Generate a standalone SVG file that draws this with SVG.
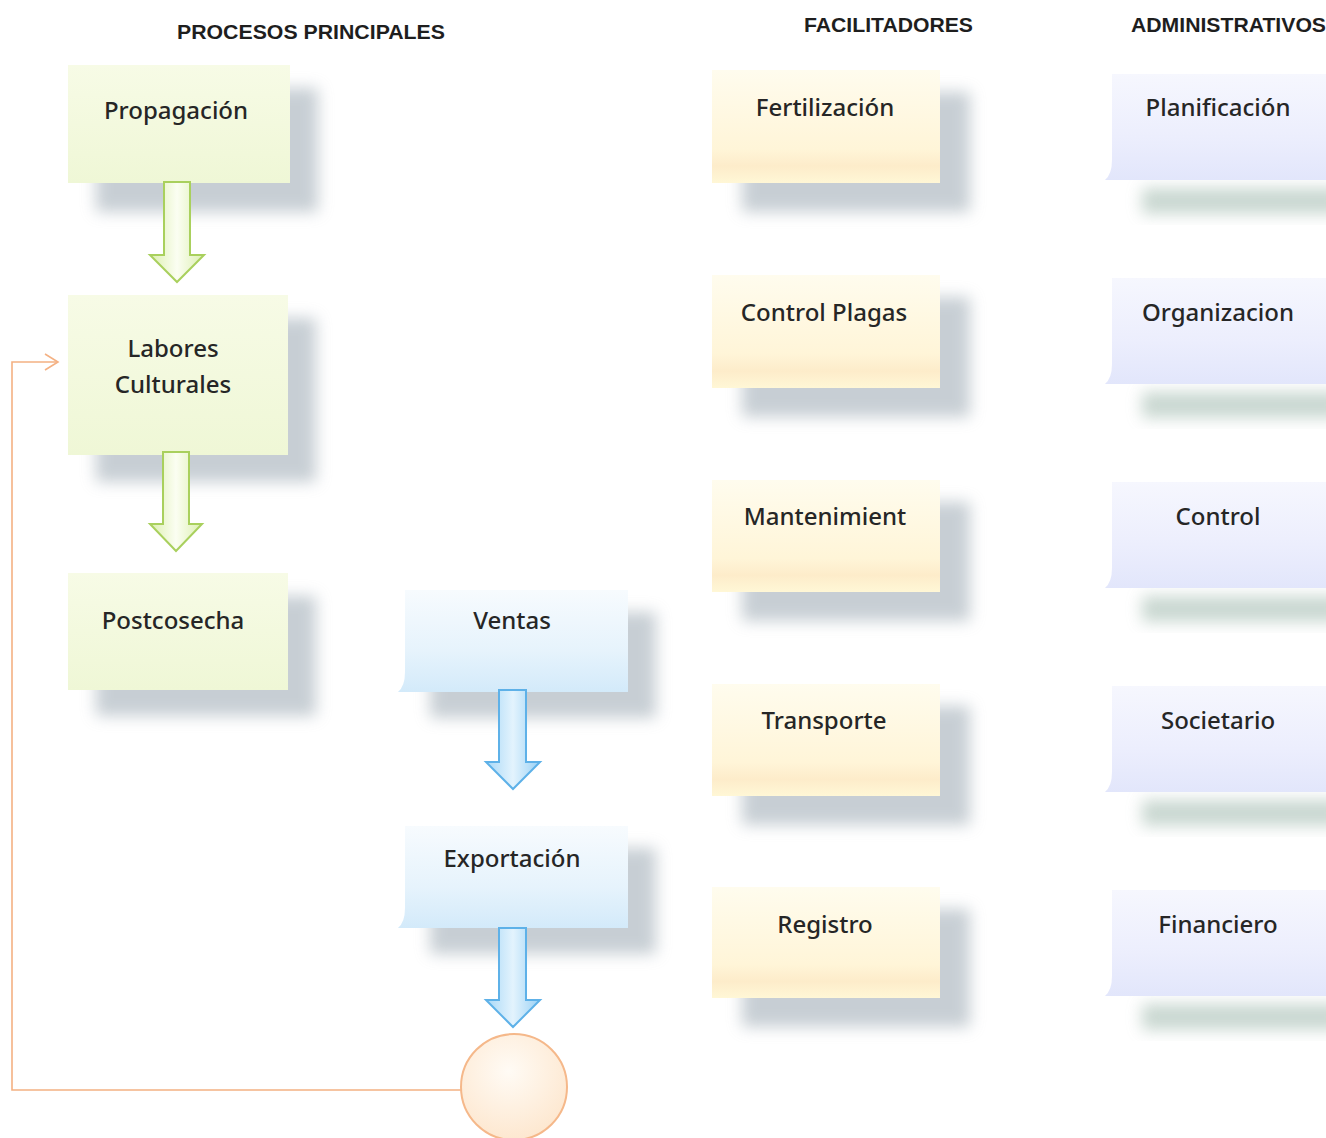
<svg xmlns="http://www.w3.org/2000/svg" width="1326" height="1138" viewBox="0 0 1326 1138">
  <defs>
    <style>
      .hdr { font-family: "Liberation Sans", Arial, sans-serif; font-weight: bold; font-size: 20px; fill: #1e1e1e; }
      .lbl { font-family: "Noto Sans", "Open Sans", sans-serif; font-weight: 500; font-size: 24px; fill: #262626; text-anchor: middle; }
      .shadow { fill: #a3afb8; opacity: 0.6; filter: url(#blur); }
      .shadowAdm { fill: #b3c7be; opacity: 0.7; filter: url(#blur); }
      .green { fill: url(#gGreen); }
      .yellow { fill: url(#gYellow); }
      .blue { fill: url(#gBlue); }
      .lav { fill: url(#gLav); }
      .garrow { fill: url(#gGreenArrow); stroke: #a9d05d; stroke-width: 2; stroke-linejoin: miter; }
      .barrow { fill: url(#gBlueArrow); stroke: #5eb1e8; stroke-width: 2; stroke-linejoin: miter; }
      .loop { fill: none; stroke: #f4b183; stroke-width: 1.6; }
    </style>
    <filter id="blur" x="-25%" y="-40%" width="150%" height="180%">
      <feGaussianBlur stdDeviation="7.5"/>
    </filter>
    <linearGradient id="gGreen" x1="0" y1="0" x2="0" y2="1">
      <stop offset="0" stop-color="#f7fbe6"/>
      <stop offset="1" stop-color="#eff7d6"/>
    </linearGradient>
    <linearGradient id="gYellow" x1="0" y1="0" x2="0" y2="1">
      <stop offset="0" stop-color="#fffcee"/>
      <stop offset="0.7" stop-color="#fff5d8"/>
      <stop offset="0.85" stop-color="#fdecca"/>
      <stop offset="1" stop-color="#fff7d6"/>
    </linearGradient>
    <linearGradient id="gBlue" x1="0" y1="0" x2="0" y2="1">
      <stop offset="0" stop-color="#f7fbfe"/>
      <stop offset="0.6" stop-color="#e6f3fc"/>
      <stop offset="1" stop-color="#d3eafa"/>
    </linearGradient>
    <linearGradient id="gLav" x1="0" y1="0" x2="0" y2="1">
      <stop offset="0" stop-color="#f6f7fe"/>
      <stop offset="0.6" stop-color="#eceefd"/>
      <stop offset="1" stop-color="#e2e6fb"/>
    </linearGradient>
    <linearGradient id="gGreenArrow" x1="0" y1="0" x2="1" y2="0">
      <stop offset="0" stop-color="#dcefb0"/>
      <stop offset="0.5" stop-color="#fbfef2"/>
      <stop offset="1" stop-color="#dcefb0"/>
    </linearGradient>
    <linearGradient id="gBlueArrow" x1="0" y1="0" x2="1" y2="0">
      <stop offset="0" stop-color="#a8d8f7"/>
      <stop offset="0.5" stop-color="#e3f3fd"/>
      <stop offset="1" stop-color="#9ad1f5"/>
    </linearGradient>
    <radialGradient id="gCircle" cx="0.45" cy="0.35" r="0.7">
      <stop offset="0" stop-color="#fffbf5"/>
      <stop offset="1" stop-color="#fde6cd"/>
    </radialGradient>
  </defs>

  <rect width="1326" height="1138" fill="#ffffff"/>

  <!-- column headings -->
  <g id="headers">
    <text class="hdr" x="177" y="39" textLength="268" lengthAdjust="spacingAndGlyphs">PROCESOS PRINCIPALES</text>
    <text class="hdr" x="804" y="32" textLength="169" lengthAdjust="spacingAndGlyphs">FACILITADORES</text>
    <text class="hdr" x="1131" y="32" textLength="195" lengthAdjust="spacingAndGlyphs">ADMINISTRATIVOS</text>
  </g>

  <!-- feedback loop from the circle back to Labores Culturales -->
  <g id="connectors">
    <polyline class="loop" points="461,1090 12,1090 12,362 58,362"/>
    <polyline class="loop" points="45,354 58,362 45,370"/>
  </g>

  <!-- main processes (green) -->
  <g id="propagacion">
    <rect class="shadow" x="96" y="88" width="222" height="124"/>
    <rect class="green" x="68" y="65" width="222" height="118"/>
    <text class="lbl" x="176" y="119">Propagación</text>
  </g>
  <g id="arrow-prop-labores">
    <path class="garrow" d="M164,182 H190 V255 H204 L177,282 L150,255 H164 Z"/>
  </g>
  <g id="labores">
    <rect class="shadow" x="96" y="318" width="220" height="164"/>
    <rect class="green" x="68" y="295" width="220" height="160"/>
    <text class="lbl" x="173" y="357">Labores</text>
    <text class="lbl" x="173" y="393">Culturales</text>
  </g>
  <g id="arrow-labores-post">
    <path class="garrow" d="M163,452 H189 V524 H202 L176,551 L150,524 H163 Z"/>
  </g>
  <g id="postcosecha">
    <rect class="shadow" x="96" y="596" width="220" height="120"/>
    <rect class="green" x="68" y="573" width="220" height="117"/>
    <text class="lbl" x="173" y="629">Postcosecha</text>
  </g>

  <!-- sales chain (blue) -->
  <g id="ventas">
    <rect class="shadow" x="430" y="612" width="226" height="106"/>
    <path class="blue" d="M405,590 H628 V692 H398 Q405,686 405,672 Z"/>
    <text class="lbl" x="512" y="629">Ventas</text>
  </g>
  <g id="arrow-ventas-export">
    <path class="barrow" d="M499,690 H526 V762 H540 L513,789 L486,762 H499 Z"/>
  </g>
  <g id="exportacion">
    <rect class="shadow" x="430" y="848" width="226" height="106"/>
    <path class="blue" d="M405,826 H628 V928 H398 Q405,922 405,908 Z"/>
    <text class="lbl" x="512" y="867">Exportación</text>
  </g>
  <g id="arrow-export-circle">
    <path class="barrow" d="M499,928 H526 V1000 H540 L513,1027 L486,1000 H499 Z"/>
  </g>
  <g id="circle">
    <circle cx="514" cy="1087" r="53" fill="url(#gCircle)" stroke="#f5b88a" stroke-width="2"/>
  </g>

  <!-- support processes (yellow) -->
  <g id="fertilizacion">
    <rect class="shadow" x="742" y="92" width="228" height="120"/>
    <rect class="yellow" x="712" y="70" width="228" height="113"/>
    <text class="lbl" x="825" y="116">Fertilización</text>
  </g>
  <g id="control-plagas">
    <rect class="shadow" x="742" y="297" width="228" height="120"/>
    <rect class="yellow" x="712" y="275" width="228" height="113"/>
    <text class="lbl" x="824" y="321">Control Plagas</text>
  </g>
  <g id="mantenimiento">
    <rect class="shadow" x="742" y="502" width="228" height="119"/>
    <rect class="yellow" x="712" y="480" width="228" height="112"/>
    <text class="lbl" x="825" y="525">Mantenimient</text>
  </g>
  <g id="transporte">
    <rect class="shadow" x="742" y="706" width="228" height="119"/>
    <rect class="yellow" x="712" y="684" width="228" height="112"/>
    <text class="lbl" x="824" y="729">Transporte</text>
  </g>
  <g id="registro">
    <rect class="shadow" x="742" y="909" width="228" height="118"/>
    <rect class="yellow" x="712" y="887" width="228" height="111"/>
    <text class="lbl" x="825" y="933">Registro</text>
  </g>

  <!-- administrative processes (lavender) -->
  <g id="planificacion">
    <rect class="shadowAdm" x="1142" y="188" width="200" height="26"/>
    <path class="lav" d="M1112,74 H1326 V180 H1105 Q1112,174 1112,160 Z"/>
    <text class="lbl" x="1218" y="116">Planificación</text>
  </g>
  <g id="organizacion">
    <rect class="shadowAdm" x="1142" y="392" width="200" height="26"/>
    <path class="lav" d="M1112,278 H1326 V384 H1105 Q1112,378 1112,364 Z"/>
    <text class="lbl" x="1218" y="321">Organizacion</text>
  </g>
  <g id="control">
    <rect class="shadowAdm" x="1142" y="596" width="200" height="26"/>
    <path class="lav" d="M1112,482 H1326 V588 H1105 Q1112,582 1112,568 Z"/>
    <text class="lbl" x="1218" y="525">Control</text>
  </g>
  <g id="societario">
    <rect class="shadowAdm" x="1142" y="800" width="200" height="26"/>
    <path class="lav" d="M1112,686 H1326 V792 H1105 Q1112,786 1112,772 Z"/>
    <text class="lbl" x="1218" y="729">Societario</text>
  </g>
  <g id="financiero">
    <rect class="shadowAdm" x="1142" y="1004" width="200" height="26"/>
    <path class="lav" d="M1112,890 H1326 V996 H1105 Q1112,990 1112,976 Z"/>
    <text class="lbl" x="1218" y="933">Financiero</text>
  </g>
</svg>
